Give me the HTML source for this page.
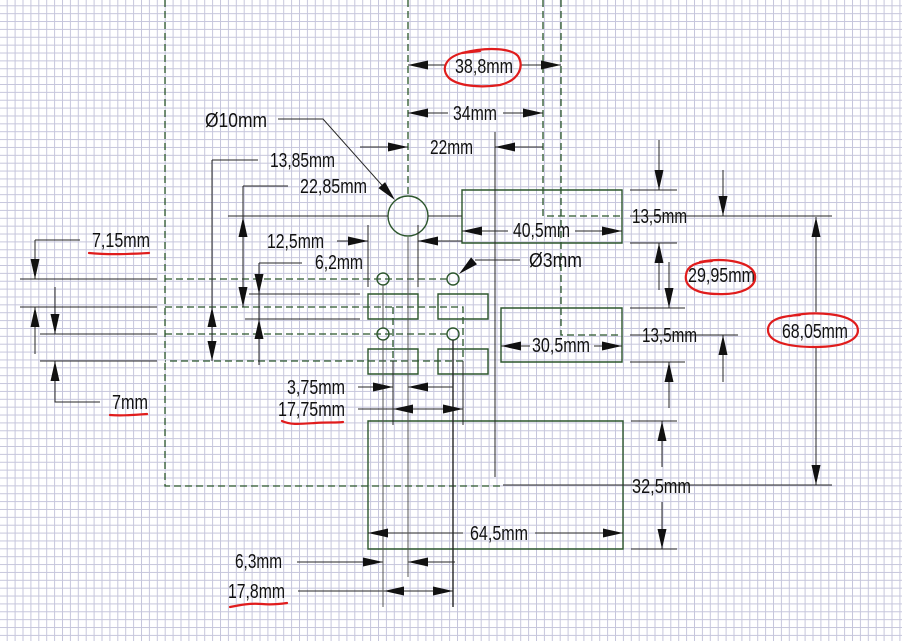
<!DOCTYPE html>
<html><head><meta charset="utf-8"><style>
html,body{margin:0;padding:0;background:#fff}
svg{display:block}
text{font-family:"Liberation Sans",sans-serif;font-size:20px;fill:#111}
</style></head><body>
<svg width="902" height="641" viewBox="0 0 902 641" xmlns="http://www.w3.org/2000/svg">
<defs>
<pattern id="g" x="6.7" y="5.3" width="7.9" height="7.87" patternUnits="userSpaceOnUse">
<path d="M0.5 0 V7.87 M0 0.5 H7.9" stroke="#c6c6dc" stroke-width="1" fill="none"/>
</pattern>
</defs>
<rect width="902" height="641" fill="#fff"/>
<rect width="902" height="641" fill="url(#g)"/>

<path stroke="#2a562a" stroke-width="1.3" fill="none" stroke-dasharray="7 4"
 d="M165 0 V486 H500 M408 0 V196 M543 0 V216 H622 M561 0 V335 H622 M165 279 H447 M165 334 H447 M165 307 H463 V361 H165 M393 307 V361"/>

<g stroke="#2c562c" stroke-width="1.4" fill="none">
<circle cx="408" cy="216" r="20"/>
<path d="M389 279 a6 6 0 1 0 -12 0 a6 6 0 1 0 12 0 M459 279 a6 6 0 1 0 -12 0 a6 6 0 1 0 12 0 M389 334 a6 6 0 1 0 -12 0 a6 6 0 1 0 12 0 M459 334 a6 6 0 1 0 -12 0 a6 6 0 1 0 12 0"/>
<path d="M368 294 h50 v25 h-50 z M438 294 h50 v25 h-50 z M368 349 h50 v25 h-50 z M438 349 h50 v25 h-50 z M462 190 h160 v53 h-160 z M501 308 h121 v54 h-121 z M368 421 h255 v128 h-255 z"/>
</g>

<path stroke="#262626" stroke-width="1" fill="none" d="M408 65 H446 M520 65 H561 M408 113 H448 M503 113 H543 M360 147 H408 M495 147 H543 M495 132 V477 M278 119 H323 L388 192 M212 160 H258 M212 160 V361 M243 186 H288 M243 186 V307 M228 216 H388 M428 216 H462 M337 241 H368 M418 241 H462 M368 225 V287 M418 225 V287 M259 263 H302 M259 263 V365 M249 294 H360 M245 319 H360 M20 279 H157 M20 307 H157 M40 334 H157 M40 361 H157 M35 240 H80 M35 240 V279 M35 307 V354 M55 287 V334 M55 361 V402 H100 M475 260 H520 M462 231 H508 M575 231 H622 M501 346 H530 M594 346 H622 M393 361 V425 M463 361 V425 M358 387 H393 M408 387 H453 M358 409 H463 M630 190 H677 M630 243 H677 M659 140 V190 M659 243 V290 M630 216 H832 M723 170 V216 M723 335 V382 M630 308 H685 M630 335 H738 M630 362 H685 M669 262 V308 M669 362 V408 M816 217 V312 M816 348 V485 M503 485 H832 M631 421 H677 M631 549 H677 M662 421 V467 M662 502 V549 M368 533 H463 M535 533 H623 M297 562 H383 M408 562 H455 M298 591 H453"/>
<path stroke="#555" stroke-width="1" fill="none" d="M408 237 V577 M383 285 V328 M383 340 V607"/>
<path stroke="#262626" stroke-width="1.4" fill="none" d="M453 340 V607"/>

<path fill="#111" d="M408 65 l20 -4.5 v9 z M561 65 l-20 -4.5 v9 z M408 113 l20 -4.5 v9 z M543 113 l-20 -4.5 v9 z M408 147 l-20 -4.5 v9 z M495 147 l20 -4.5 v9 z M395 200 L378.4 188.1 L385.1 182.1 z M212 307 l-4.5 20 h9 z M212 361 l-4.5 -20 h9 z M243 217 l-4.5 20 h9 z M243 307 l-4.5 -20 h9 z M368 241 l-20 -4.5 v9 z M418 241 l20 -4.5 v9 z M259 294 l-4.5 -20 h9 z M259 319 l-4.5 20 h9 z M35 279 l-4.5 -20 h9 z M35 307 l-4.5 20 h9 z M55 334 l-4.5 -20 h9 z M55 361 l-4.5 20 h9 z M459 274 L471.1 257.4 L477 264.2 z M462 231 l20 -4.5 v9 z M622 231 l-20 -4.5 v9 z M501 346 l20 -4.5 v9 z M622 346 l-20 -4.5 v9 z M393 387 l-20 -4.5 v9 z M408 387 l20 -4.5 v9 z M393 409 l20 -4.5 v9 z M463 409 l-20 -4.5 v9 z M659 190 l-4.5 -20 h9 z M659 243 l-4.5 20 h9 z M723 216 l-4.5 -20 h9 z M723 335 l-4.5 20 h9 z M669 308 l-4.5 -20 h9 z M669 362 l-4.5 20 h9 z M816 217 l-4.5 20 h9 z M816 485 l-4.5 -20 h9 z M662 421 l-4.5 20 h9 z M662 549 l-4.5 -20 h9 z M368 533 l20 -4.5 v9 z M623 533 l-20 -4.5 v9 z M383 562 l-20 -4.5 v9 z M408 562 l20 -4.5 v9 z M384 591 l20 -4.5 v9 z M453 591 l-20 -4.5 v9 z"/>

<text x="455" y="73" textLength="58" lengthAdjust="spacingAndGlyphs">38,8mm</text>
<text x="453" y="120" textLength="44" lengthAdjust="spacingAndGlyphs">34mm</text>
<text x="430" y="154" textLength="43" lengthAdjust="spacingAndGlyphs">22mm</text>
<text x="205" y="127" textLength="62" lengthAdjust="spacingAndGlyphs">Ø10mm</text>
<text x="270" y="167" textLength="65" lengthAdjust="spacingAndGlyphs">13,85mm</text>
<text x="300" y="193" textLength="67" lengthAdjust="spacingAndGlyphs">22,85mm</text>
<text x="267" y="248" textLength="57" lengthAdjust="spacingAndGlyphs">12,5mm</text>
<text x="315" y="269" textLength="48" lengthAdjust="spacingAndGlyphs">6,2mm</text>
<text x="92" y="247" textLength="58" lengthAdjust="spacingAndGlyphs">7,15mm</text>
<text x="112" y="409" textLength="36" lengthAdjust="spacingAndGlyphs">7mm</text>
<text x="287" y="394" textLength="58" lengthAdjust="spacingAndGlyphs">3,75mm</text>
<text x="278" y="416" textLength="67" lengthAdjust="spacingAndGlyphs">17,75mm</text>
<text x="529" y="267" textLength="53" lengthAdjust="spacingAndGlyphs">Ø3mm</text>
<text x="513" y="237" textLength="57" lengthAdjust="spacingAndGlyphs">40,5mm</text>
<text x="532" y="352" textLength="58" lengthAdjust="spacingAndGlyphs">30,5mm</text>
<text x="470" y="540" textLength="58" lengthAdjust="spacingAndGlyphs">64,5mm</text>
<text x="632" y="493" textLength="59" lengthAdjust="spacingAndGlyphs">32,5mm</text>
<text x="235" y="568" textLength="47" lengthAdjust="spacingAndGlyphs">6,3mm</text>
<text x="228" y="598" textLength="57" lengthAdjust="spacingAndGlyphs">17,8mm</text>
<text x="632" y="223" textLength="55" lengthAdjust="spacingAndGlyphs">13,5mm</text>
<text x="642" y="342" textLength="55" lengthAdjust="spacingAndGlyphs">13,5mm</text>
<text x="688" y="282" textLength="67" lengthAdjust="spacingAndGlyphs">29,95mm</text>
<text x="782" y="338" textLength="66" lengthAdjust="spacingAndGlyphs">68,05mm</text>

<path stroke="#e01c1c" stroke-width="2.2" fill="none" stroke-linecap="round" d="M462 53 C490 46 512 49 518 56 C524 66 520 80 500 85 C480 88 458 86 449 78 C441 70 444 58 462 53 L480 51 M700 262 C725 257 752 262 755 275 C757 288 740 295 718 294 C697 294 684 287 686 275 C687 266 695 262 712 261 M790 316 C815 311 850 313 857 326 C862 339 845 347 815 347 C788 347 768 342 768 330 C768 320 780 316 800 315 M89 253 C110 255 130 254 149 253 M110 415 C122 416 135 415 147 414 M282 421 C290 425 300 424 315 423 C328 422 336 423 343 422 M230 607 C240 605 250 603 262 604 C272 605 280 604 287 603"/>
</svg>
</body></html>
